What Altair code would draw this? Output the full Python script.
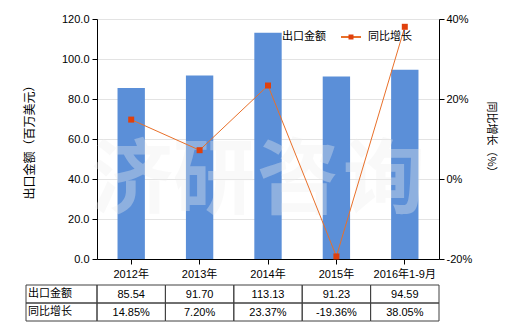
import altair as alt
import pandas as pd

categories = ["2012年", "2013年", "2014年", "2015年", "2016年1-9月"]
export_values = [85.54, 91.70, 113.13, 91.23, 94.59]
growth_values = [14.85, 7.20, 23.37, -19.36, 38.05]
export_labels = ["85.54", "91.70", "113.13", "91.23", "94.59"]
growth_labels = ["14.85%", "7.20%", "23.37%", "-19.36%", "38.05%"]
row_names = ["出口金额", "同比增长"]
left_ticks = [0, 20, 40, 60, 80, 100, 120]
right_ticks = [-20, 0, 20, 40]

FONT = "Liberation Sans, Noto Sans CJK SC, sans-serif"
BAR = "#5B8FD8"
LINE = "#E8702A"
MARK = "#E0400C"
GRID_LINE = "#404040"

df = pd.DataFrame({
    "cat": categories,
    "export": export_values,
    "growth": growth_values,
    "elab": export_labels,
    "glab": growth_labels,
})

W, H = 342, 240
L, T = 97, 19

xscale = alt.Scale(domain=categories, paddingInner=0, paddingOuter=0)
base = alt.Chart(df)

# watermark
wm = alt.Chart(pd.DataFrame({"t": ["济", "研", "咨", "询"], "px": [132 - L, 214 - L, 298 - L, 384 - L]})).mark_text(
    font="Noto Sans CJK SC", fontSize=82, fontWeight="bold", color="#EEEEEE", opacity=0.35, baseline="middle", align="center"
).encode(x=alt.X("px:Q", scale=None), y=alt.value(182 - T), text="t:N")

bars = base.mark_bar(color=BAR, width=alt.RelativeBandSize(0.4)).encode(
    x=alt.X("cat:N", sort=categories, scale=xscale, title=None,
            axis=alt.Axis(labelAngle=0, domainColor="black", tickColor="black", tickSize=5,
                          labelColor="black", labelFont=FONT, labelFontSize=11, labelPadding=4)),
    y=alt.Y("export:Q", scale=alt.Scale(domain=[0, 120], nice=False),
            axis=alt.Axis(orient="left", values=left_ticks, format=".1f", title="出口金额（百万美元）",
                          grid=True, gridColor="#E3E3E3", domainColor="black", tickColor="black", tickSize=5,
                          labelColor="black", labelFont=FONT, labelFontSize=11, labelPadding=3,
                          titleFont="Noto Sans CJK SC", titleFontSize=12, titleFontWeight="normal",
                          titleColor="black", titlePadding=25)),
)

growth_y = alt.Y("growth:Q", scale=alt.Scale(domain=[-20, 40], nice=False),
                 axis=alt.Axis(orient="right", values=right_ticks, labelExpr="datum.value + '%'",
                               title="同比增长（%）", grid=False, domainColor="black", tickColor="black",
                               tickSize=5, labelColor="black", labelFont=FONT, labelFontSize=11,
                               labelPadding=2, titleFont="Noto Sans CJK SC", titleFontSize=11,
                               titleFontWeight="normal", titleColor="black", titlePadding=14))

line = base.mark_line(color=LINE, strokeWidth=1).encode(
    x=alt.X("cat:N", sort=categories, scale=xscale), y=growth_y)
pts = base.mark_square(size=36, color=MARK, opacity=1).encode(
    x=alt.X("cat:N", sort=categories, scale=xscale), y=growth_y)

left_layer = alt.layer(bars, wm)
right_layer = alt.layer(line, pts)

# legend
leg_text = alt.Chart(pd.DataFrame({"t": ["出口金额", "同比增长"], "px": [282 - L, 368 - L]})).mark_text(
    font="Noto Sans CJK SC", fontSize=11, color="black", align="left", baseline="middle"
).encode(x=alt.X("px:Q", scale=None), y=alt.value(37 - T), text="t:N")
leg_line = alt.Chart(pd.DataFrame({"a": [341 - L], "b": [361 - L]})).mark_rule(color=LINE, strokeWidth=2).encode(
    x=alt.X("a:Q", scale=None), x2="b:Q", y=alt.value(37 - T))
leg_mark = alt.Chart(pd.DataFrame({"a": [351 - L]})).mark_square(size=25, color=MARK, opacity=1).encode(
    x=alt.X("a:Q", scale=None), y=alt.value(37 - T))

# table
r1, r2, r3 = 285 - T, 303 - T, 321 - T
cells1 = base.mark_rect(fillOpacity=0, stroke=GRID_LINE, strokeWidth=1).encode(
    x=alt.X("cat:N", sort=categories, scale=xscale), y=alt.value(r1), y2=alt.value(r2))
cells2 = base.mark_rect(fillOpacity=0, stroke=GRID_LINE, strokeWidth=1).encode(
    x=alt.X("cat:N", sort=categories, scale=xscale), y=alt.value(r2), y2=alt.value(r3))
head = alt.Chart(pd.DataFrame({"r": row_names, "y0": [r1, r2], "y1": [r2, r3]})).mark_rect(
    fillOpacity=0, stroke=GRID_LINE, strokeWidth=1
).encode(x=alt.value(26 - L), x2=alt.value(0), y=alt.Y("y0:Q", scale=None), y2="y1:Q")
head_text = alt.Chart(pd.DataFrame({"r": row_names, "yc": [r1 + 9, r2 + 9]})).mark_text(
    font="Noto Sans CJK SC", fontSize=11, color="black", align="left", baseline="middle"
).encode(x=alt.value(28 - L), y=alt.Y("yc:Q", scale=None), text="r:N")
t1 = base.mark_text(font=FONT, fontSize=11, color="black", baseline="middle").encode(
    x=alt.X("cat:N", sort=categories, scale=xscale), y=alt.value(r1 + 10), text="elab:N")
t2 = base.mark_text(font=FONT, fontSize=11, color="black", baseline="middle").encode(
    x=alt.X("cat:N", sort=categories, scale=xscale), y=alt.value(r2 + 10), text="glab:N")

chart = alt.layer(
    left_layer, right_layer, leg_text, leg_line, leg_mark, cells1, cells2, head, head_text, t1, t2
).resolve_scale(y="independent").properties(
    width=W, height=H,
    autosize=alt.AutoSizeParams(type="none"),
    padding={"left": L, "top": T, "right": 520 - L - W, "bottom": 330 - T - H},
    background="white",
).configure_view(stroke=None)

chart.save("out.html", embed_options={"renderer": "svg", "actions": False})
